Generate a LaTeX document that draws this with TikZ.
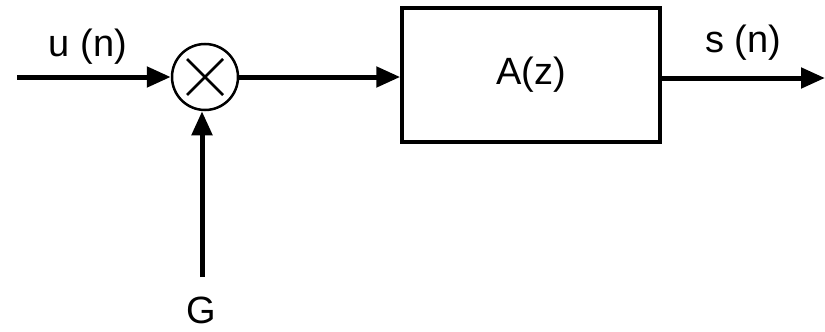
\documentclass[tikz,border=0pt]{standalone}
\usepackage{fontspec}
\setmainfont{Liberation Sans}
\usepackage{tikz}
\usetikzlibrary{arrows.meta, positioning}
\def\mulR{33pt}
\def\crossR{18pt}
\def\lineW{5pt}
\begin{document}
\begin{tikzpicture}[
    x=1pt, y=-1pt,
    >={Triangle[length=24pt,width=20pt]},
    sig/.style={line width=\lineW, ->},
    lbl/.style={font=\fontsize{38}{42}\selectfont, inner sep=0pt},
    mult/.style={circle, draw, line width=2.5pt, minimum size=2*\mulR, inner sep=0pt},
    block/.style={draw, line width=3.5pt, minimum width=258pt, minimum height=134pt, inner sep=0pt}
]
\useasboundingbox (0,0) rectangle (825,332);
% blocks
\node[mult] (mul) at (205,77) {};
\draw[line width=2.5pt] ([shift={(-\crossR,-\crossR)}]mul.center) -- ([shift={(\crossR,\crossR)}]mul.center)
                        ([shift={(\crossR,-\crossR)}]mul.center) -- ([shift={(-\crossR,\crossR)}]mul.center);
\node[block, lbl] (filt) at (531,75) {A(z)};
% free ends
\coordinate (in) at (17,77);
\coordinate (out) at (825,78);
\coordinate (gain) at (202,277);
% labels
\node[lbl] (ulab) at (88,47) {u (n)};
\node[lbl] (slab) at (743,43) {s (n)};
\node[lbl] (glab) at (201,310) {G};
% signals
\draw[sig] (in) -- (mul.west);
\draw[sig] (mul.east) -- (mul.east -| filt.west);
\draw[sig] (filt.east |- out) -- (out);
\draw[sig] (gain) -- (gain |- mul.south);
\end{tikzpicture}
\end{document}
